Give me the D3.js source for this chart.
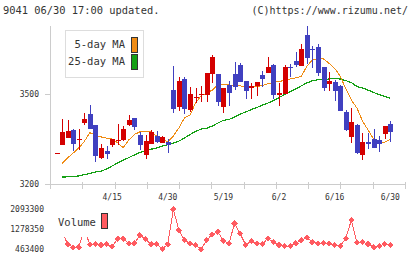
<!DOCTYPE html>
<html>
<head>
<meta charset="utf-8">
<script src="https://cdn.jsdelivr.net/npm/d3@7"></script>
<style>
body { margin: 0; background: #fff; }
text { font-family: "DejaVu Sans Mono", monospace; fill: #333; }
</style>
</head>
<body>
<div id="chart"></div>
<script>
// trading days 2020/4/1 - 6/30
const dates = ["4/1","4/2","4/3","4/6","4/7","4/8","4/9","4/10","4/13","4/14",
  "4/15","4/16","4/17","4/20","4/21","4/22","4/23","4/24","4/27","4/28",
  "4/30","5/1","5/7","5/8","5/11","5/12","5/13","5/14","5/15","5/18",
  "5/19","5/20","5/21","5/22","5/25","5/26","5/27","5/28","5/29","6/1",
  "6/2","6/3","6/4","6/5","6/8","6/9","6/10","6/11","6/12","6/15",
  "6/16","6/17","6/18","6/19","6/22","6/23","6/24","6/25","6/26","6/29","6/30"];

const open  = [3302,3331,3354,3379,3349,3404,3434,3397,3288,3310,3331,3346,3348,3397,3420,3364,3296,3334,3360,3337,
  3340,3513,3458,3550,3447,3488,3497,3498,3566,3567,3458,3530,3567,3597,3542,3519,3527,3563,3571,3597,
  3498,3501,3590,3610,3593,3697,3651,3657,3590,3533,3541,3527,3441,3357,3397,3298,3340,3350,3348,3367,3400];
const high  = [3302,3416,3413,3382,3382,3438,3463,3397,3333,3327,3350,3400,3395,3429,3420,3374,3363,3380,3377,3361,
  3350,3593,3558,3558,3524,3521,3527,3570,3630,3567,3519,3542,3607,3603,3542,3537,3540,3577,3623,3601,
  3538,3597,3600,3640,3667,3728,3660,3666,3590,3574,3547,3530,3447,3453,3399,3370,3370,3383,3359,3393,3410];
const low   = [3302,3331,3354,3310,3313,3397,3384,3274,3284,3282,3324,3329,3344,3393,3380,3313,3282,3332,3336,3336,
  3302,3436,3444,3432,3441,3469,3472,3473,3538,3461,3438,3461,3513,3539,3483,3484,3493,3523,3571,3484,
  3461,3501,3558,3591,3593,3601,3588,3560,3510,3511,3477,3444,3378,3338,3300,3281,3318,3321,3308,3350,3341];
const close = [3303,3373,3377,3334,3350,3416,3384,3292,3319,3299,3350,3347,3383,3414,3391,3329,3344,3373,3339,3357,
  3331,3449,3543,3450,3501,3489,3501,3570,3623,3473,3519,3504,3524,3540,3511,3526,3540,3551,3590,3498,
  3503,3590,3589,3597,3650,3621,3650,3571,3520,3543,3510,3444,3380,3407,3303,3340,3334,3321,3334,3393,3374];

const ma5  = [null,3269,3287,3303,3320,3342,3371,3363,3357,3353,3350,3337,3321,3347,3365,3374,3374,3374,3360,3347,
  3341,3360,3387,3420,3430,3470,3495,3503,3513,3530,3532,3530,3530,3527,3523,3522,3525,3528,3534,3538,
  3542,3545,3550,3554,3558,3593,3613,3618,3617,3602,3585,3560,3517,3480,3453,3410,3380,3350,3340,3340,3349];
const ma25 = [null,3223,3224,3225,3227,3231,3235,3240,3243,3250,3260,3270,3280,3288,3297,3305,3312,3316,3320,3326,
  3331,3336,3343,3353,3365,3375,3383,3386,3393,3403,3412,3415,3423,3433,3440,3448,3455,3463,3470,3478,
  3488,3498,3508,3517,3527,3537,3544,3548,3548,3550,3552,3550,3545,3538,3525,3520,3513,3505,3498,3492,3486];

const volume = [1150000,1200000,655000,532700,532700,1237000,655000,655000,626400,655000,557100,883100,883100,695700,695700,1033900,858700,667100,667100,463400,
  655000,2093300,1237600,830200,679400,626400,451200,830200,1062400,1168400,809800,695700,1510700,1103200,626400,789400,695700,667100,899400,736400,
  626400,585600,585600,695700,817900,940200,736400,695700,695700,695700,626400,585600,899400,1645200,736400,736400,667100,532700,585600,667100,626400];

const priceTicks = [3200, 3500];
const volumeTicks = [463400, 1278350, 2093300];
const dateLabels = ["4/15","4/30","5/19","6/2","6/16","6/30"];

const W = 420, H = 259;
const upColor = "#d40000", downColor = "#4040c0";

const svg = d3.select("#chart").append("svg")
  .attr("width", W).attr("height", H)
  .attr("shape-rendering", "crispEdges");

const idx = d3.range(dates.length);
const x = d3.scaleLinear().domain([0, dates.length - 1]).range([56.5, 390.3]);
const y = d3.scaleLinear().domain([3200, 3730]).range([184, 25]);
const yv = d3.scaleLinear().domain([463400, 2093300]).range([249, 209.3]);

// header
svg.append("text").attr("x", 3).attr("y", 14).style("font-size", "10.4px")
  .text("9041 06/30 17:00 updated.");
svg.append("text").attr("x", 408).attr("y", 14).attr("text-anchor", "end").style("font-size", "10px")
  .text("(C)https://www.rizumu.net/");

// price axis
const yAxis = svg.append("g").attr("transform", "translate(50,0)")
  .call(d3.axisLeft(y).tickValues(priceTicks).tickSizeInner(5).tickSizeOuter(0).tickPadding(6).tickFormat(d3.format("d")));
yAxis.select(".domain").attr("stroke", "#ccc");
yAxis.selectAll(".tick line").attr("stroke", "#ccc");
yAxis.selectAll(".tick text").style("font-size", "8px").style("font-family", "DejaVu Sans Mono").attr("fill", "#333");

// bottom axis with evenly spaced ticks
const grid = d3.scaleLinear().domain([0, 11]).range([50, 405]);
const xAxis = svg.append("g").attr("transform", "translate(0,184)")
  .call(d3.axisBottom(grid).ticks(11).tickSizeInner(5).tickSizeOuter(0).tickFormat(""));
xAxis.select(".domain").attr("stroke", "#ccc");
xAxis.selectAll(".tick line").attr("stroke", "#ccc").attr("y1", -2);

svg.append("g").selectAll("text").data(dateLabels).join("text")
  .attr("x", d => x(dates.indexOf(d)))
  .attr("y", 200)
  .attr("text-anchor", "middle")
  .style("font-size", "8px")
  .text(d => d);

// moving averages
const line = arr => d3.line().defined(i => arr[i] != null).x(i => x(i)).y(i => y(arr[i]))(idx);
svg.append("path").attr("d", line(ma25)).attr("fill", "none").attr("stroke", "#14a014").attr("stroke-width", 1.2);
svg.append("path").attr("d", line(ma5)).attr("fill", "none").attr("stroke", "#f08c14").attr("stroke-width", 1);

// candles
const candles = svg.append("g").selectAll("g").data(idx).join("g");
candles.append("line")
  .attr("x1", i => Math.round(x(i)) + 0.5).attr("x2", i => Math.round(x(i)) + 0.5)
  .attr("y1", i => y(high[i])).attr("y2", i => y(low[i]))
  .attr("stroke", i => close[i] >= open[i] ? upColor : downColor);
candles.append("rect")
  .attr("x", i => Math.round(x(i)) - 2)
  .attr("width", 5)
  .attr("y", i => y(Math.max(open[i], close[i])))
  .attr("height", i => Math.max(1, Math.abs(y(open[i]) - y(close[i]))))
  .attr("fill", i => close[i] >= open[i] ? upColor : downColor);

// price legend
const lg = svg.append("g");
lg.append("rect").attr("x", 65).attr("y", 30).attr("width", 78).attr("height", 47)
  .attr("fill", "#fff").attr("stroke", "#ddd");
[["5-day MA", "#f08c14", 37], ["25-day MA", "#14a014", 54]].forEach(([t, c, yy]) => {
  lg.append("text").attr("x", 125).attr("y", yy + 11).attr("text-anchor", "end").style("font-size", "10.5px").text(t);
  lg.append("rect").attr("x", 131).attr("y", yy).attr("width", 6).attr("height", 15)
    .attr("fill", c).attr("stroke", "#333");
});

// volume
const volColor = "#ff5a60";
svg.append("path")
  .attr("d", d3.line().x(i => x(i)).y(i => yv(volume[i]))(idx))
  .attr("fill", "none").attr("stroke", volColor);
svg.append("g").selectAll("path").data(idx).join("path")
  .attr("d", d3.symbol(d3.symbolSquare, 19))
  .attr("transform", i => `translate(${x(i)},${yv(volume[i])}) rotate(45)`)
  .attr("fill", volColor);

const va = svg.append("g").attr("transform", "translate(44,0)")
  .call(d3.axisLeft(yv).tickValues(volumeTicks).tickSize(0).tickPadding(0).tickFormat(d3.format("d")));
va.select(".domain").remove();
va.selectAll(".tick text").style("font-size", "8px").style("font-family", "DejaVu Sans Mono").attr("fill", "#333");

// volume legend
svg.append("rect").attr("x", 50).attr("y", 209).attr("width", 62).attr("height", 28).attr("fill", "#fff");
svg.append("text").attr("x", 58).attr("y", 226).style("font-size", "10.5px").text("Volume");
svg.append("rect").attr("x", 101).attr("y", 213).attr("width", 6).attr("height", 15)
  .attr("fill", volColor).attr("stroke", "#333");
</script>
</body>
</html>
